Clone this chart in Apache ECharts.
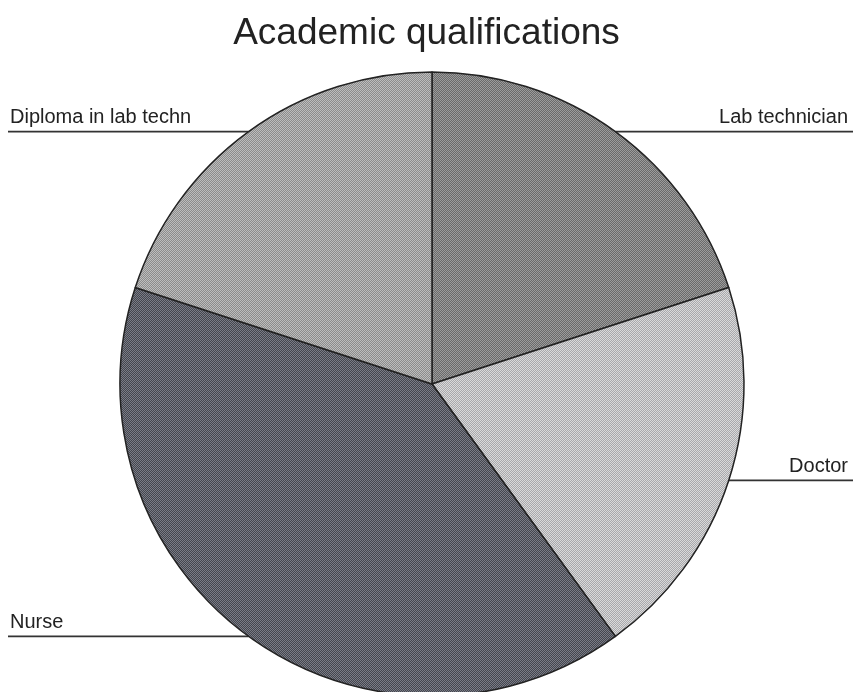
<!DOCTYPE html>
<html>
<head>
<meta charset="utf-8">
<script src="https://cdn.jsdelivr.net/npm/echarts@6/dist/echarts.min.js"></script>
<style>
  html, body { margin: 0; padding: 0; background: #ffffff; }
  #chart { width: 853px; height: 692px; }
</style>
</head>
<body>
<div id="chart"></div>
<script>
// Qualification groups, clockwise from 12 o'clock
var categories = ['Lab technician', 'Doctor', 'Nurse', 'Diploma in lab techn'];
var shares = [20, 20, 40, 20];

// Dithered grey fills, one pair of shades per slice
var shadePairs = [
  ['#9c9c9c', '#6a6a6a'],
  ['#dadada', '#a8a8ac'],
  ['#7a7c86', '#44464e'],
  ['#bdbdbd', '#8c8c8c']
];

function ditherPattern(pair) {
  var c = document.createElement('canvas');
  c.width = 4; c.height = 4;
  var g = c.getContext('2d');
  for (var y = 0; y < 4; y++) {
    for (var x = 0; x < 4; x++) {
      g.fillStyle = ((x + y) % 2 === 0) ? pair[0] : pair[1];
      g.fillRect(x, y, 1, 1);
    }
  }
  return { image: c, repeat: 'repeat' };
}

var chart = echarts.init(document.getElementById('chart'), null, { renderer: 'canvas' });
var W = 853;

var pieData = categories.map(function (name, i) {
  return {
    name: name,
    value: shares[i],
    itemStyle: { color: ditherPattern(shadePairs[i]) }
  };
});

chart.setOption({
  backgroundColor: '#ffffff',
  animation: false,
  title: {
    text: 'Academic qualifications',
    left: 'center',
    top: 10,
    textStyle: {
      fontFamily: 'Liberation Sans, Arial, sans-serif',
      fontSize: 37,
      fontWeight: 'normal',
      color: '#222222'
    }
  },
  series: [{
    type: 'pie',
    center: [432, 384],
    radius: 312,
    startAngle: 90,
    clockwise: true,
    avoidLabelOverlap: false,
    data: pieData,
    itemStyle: { borderColor: '#222222', borderWidth: 1.5 },
    emphasis: { disabled: true },
    label: {
      show: true,
      position: 'outside',
      alignTo: 'edge',
      edgeDistance: 10,
      formatter: '{b}',
      fontFamily: 'Liberation Sans, Arial, sans-serif',
      fontSize: 20,
      color: '#222222'
    },
    labelLine: {
      show: true,
      length: 0,
      length2: 20,
      smooth: false,
      lineStyle: { color: '#333333', width: 1.6 }
    },
    labelLayout: function (params) {
      var pts = params.labelLinePoints;
      if (!pts) return {};
      var start = pts[0];
      var isLeft = start[0] < W / 2;
      var endX = isLeft ? 8 : W;
      return {
        x: isLeft ? 10 : W - 5,
        y: start[1] - 4,
        align: isLeft ? 'left' : 'right',
        verticalAlign: 'bottom',
        labelLinePoints: [
          [start[0], start[1]],
          [start[0], start[1]],
          [endX, start[1]]
        ]
      };
    }
  }]
});
</script>
</body>
</html>
